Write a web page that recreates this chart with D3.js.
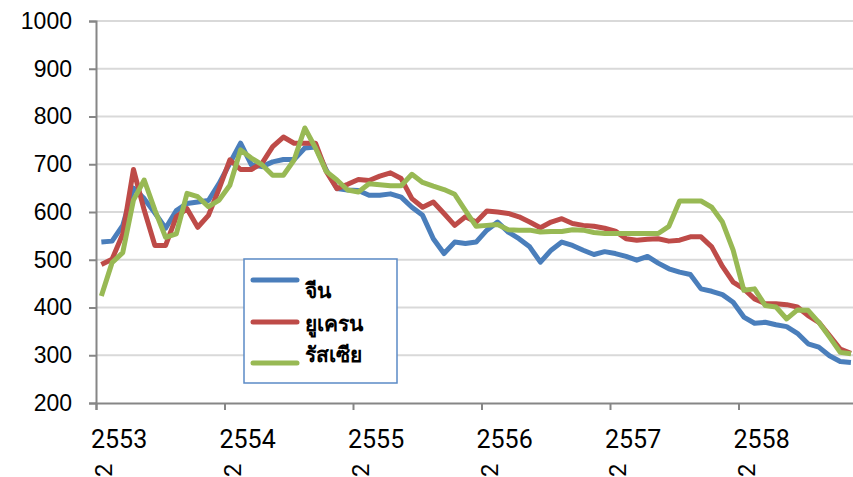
<!DOCTYPE html>
<html>
  <head>
    <meta charset="utf-8" />
    <script src="https://cdn.jsdelivr.net/npm/d3@7"></script>
    <style>
      body { margin: 0; background: #fff; }
    </style>
  </head>
  <body>
    <svg width="853" height="477" id="mainsvg"></svg>
    <script>
      // ข้อมูลรายเดือน 71 เดือน (2553 - 2558)
      const years = ["2553", "2554", "2555", "2556", "2557", "2558"];
      const seriesNames = ["จีน", "ยูเครน", "รัสเซีย"];
      const china = [
        537, 539, 572, 650, 628, 598, 566, 603, 618, 621, 624, 660,
        702, 744, 699, 695, 705, 710, 710, 734, 736, 688, 649, 646,
        645, 635, 635, 638, 631, 610, 593, 544, 513, 537, 534, 537,
        562, 579, 558, 544, 527, 495, 520, 537, 530, 520, 511, 517,
        513, 507, 499, 507, 493, 481, 474, 469, 439, 434, 427, 411,
        380, 367, 369, 364, 360, 346, 324, 317, 299, 287, 285
      ];
      const ukraine = [
        490, 501, 554, 689, 604, 530, 530, 590, 607, 568, 593, 649,
        709, 689, 689, 702, 737, 757, 744, 744, 744, 685, 649, 658,
        668, 666, 675, 682, 670, 628, 610, 621, 597, 572, 590, 579,
        602, 600, 597, 590, 579, 567, 579, 586, 576, 572, 570, 566,
        560, 544, 541, 543, 544, 539, 541, 548, 548, 527, 486, 453,
        439, 418, 408, 408, 406, 401, 383, 369, 341, 313, 304
      ];
      const russia = [
        424, 494, 515, 625, 667, 604, 547, 554, 639, 632, 611, 625,
        656, 730, 713, 699, 677, 677, 709, 776, 734, 685, 667, 646,
        642, 659, 657, 655, 655, 679, 662, 654, 647, 637, 603, 570,
        572, 574, 563, 562, 562, 558, 559, 559, 563, 562, 557, 555,
        555, 555, 555, 555, 555, 570, 623, 623, 623, 610, 579, 520,
        436, 439, 404, 401, 376, 395, 394, 369, 338, 306, 303
      ];
      const colors = ["#4a7ebb", "#be4b48", "#98b954"];

      const svg = d3.select("#mainsvg");
      const plotLeft = 96, plotTop = 21, plotBottom = 403;
      const monthW = 128.5 / 12;

      const x = d3.scaleLinear().domain([0, 72]).range([plotLeft, plotLeft + 72 * monthW]);
      const y = d3.scaleLinear().domain([200, 1000]).range([plotBottom, plotTop]);

      // เส้นกริด
      svg.append("g")
        .selectAll("line")
        .data(y.ticks(8).filter((d) => d > 200))
        .join("line")
        .attr("x1", plotLeft).attr("x2", 853)
        .attr("y1", (d) => y(d)).attr("y2", (d) => y(d))
        .attr("stroke", "#d9d9d9").attr("stroke-width", 2);

      // แกน y
      const yAxis = svg.append("g")
        .attr("transform", `translate(${plotLeft},0)`)
        .call(d3.axisLeft(y).ticks(8).tickSize(7).tickPadding(17).tickFormat(d3.format("d")));
      yAxis.select(".domain").attr("stroke", "#868686").attr("stroke-width", 2);
      yAxis.selectAll(".tick line").attr("stroke", "#868686").attr("stroke-width", 2);
      yAxis.selectAll("text")
        .attr("font-family", "Liberation Sans, Arial, sans-serif")
        .attr("font-size", 23).attr("fill", "#000");

      // แกน x
      const xAxis = svg.append("g")
        .attr("transform", `translate(0,${plotBottom})`)
        .call(d3.axisBottom(x).tickValues(d3.range(0, 72, 12)).tickSize(7).tickFormat(""));
      xAxis.select(".domain").attr("stroke", "#868686").attr("stroke-width", 2);
      xAxis.selectAll(".tick line").attr("stroke", "#868686").attr("stroke-width", 2);

      const xl = svg.append("g")
        .selectAll("g")
        .data(years)
        .join("g")
        .attr("transform", (d, i) => `translate(${x(i * 12) - 5},0)`)
        .attr("font-family", "Roboto, Liberation Sans, sans-serif")
        .attr("font-size", 25);
      xl.append("text").attr("y", 448).text((d) => d);
      // บรรทัดที่สองของป้าย (หมุนตะแคง)
      xl.append("text")
        .attr("transform", "translate(21,477) rotate(-90)")
        .attr("font-size", 24)
        .text("2");

      // เส้นข้อมูล
      const line = d3.line().x((d, i) => x(i + 0.5)).y((d) => y(d));
      [china, ukraine, russia].forEach((s, k) => {
        svg.append("path")
          .datum(s)
          .attr("d", line)
          .attr("fill", "none")
          .attr("stroke", colors[k])
          .attr("stroke-width", 5)
          .attr("stroke-linejoin", "round");
      });

      // คำอธิบาย
      const lg = svg.append("g");
      lg.append("rect")
        .attr("x", 244).attr("y", 259).attr("width", 153).attr("height", 124)
        .attr("fill", "#fff").attr("stroke", "#5b8ac6").attr("stroke-width", 1.5);
      const lineY = [280, 322, 363];
      const textY = [298, 331, 362];
      seriesNames.forEach((n, k) => {
        lg.append("line")
          .attr("x1", 253).attr("x2", 297)
          .attr("y1", lineY[k]).attr("y2", lineY[k])
          .attr("stroke", colors[k]).attr("stroke-width", 5).attr("stroke-linecap", "round");
        lg.append("text")
          .attr("x", 305).attr("y", textY[k])
          .attr("font-family", "Noto Sans, DejaVu Sans, sans-serif")
          .attr("font-weight", "bold").attr("font-size", 21)
          .text(n);
      });
    </script>
  </body>
</html>
